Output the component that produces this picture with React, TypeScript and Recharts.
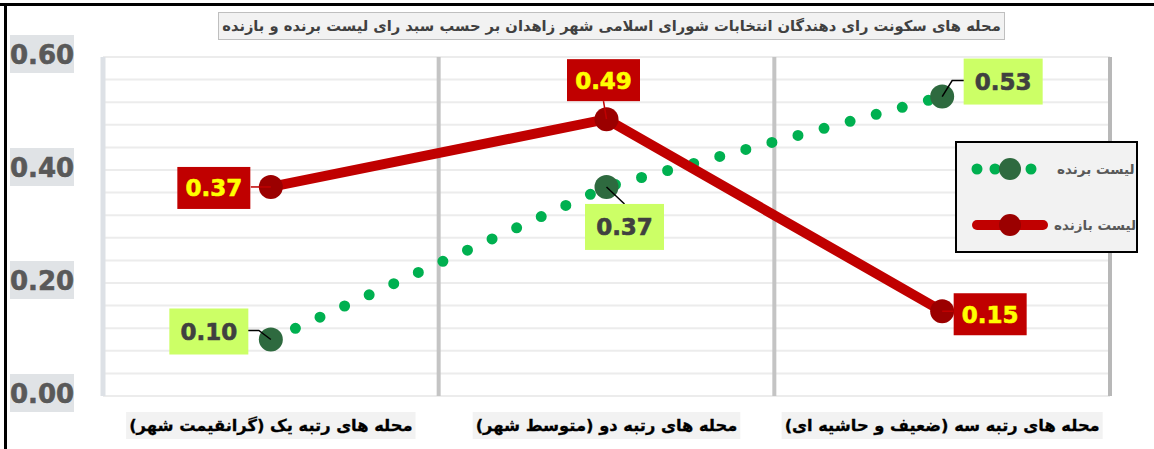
import React, { useLayoutEffect, useRef, useState } from 'react';
import { LineChart, Line, XAxis, YAxis, ReferenceLine, LabelList, Legend } from 'recharts';

const chartTitle = 'محله های سکونت رای دهندگان انتخابات شورای اسلامی شهر زاهدان  بر حسب سبد رای لیست برنده و بازنده';
const categories = [
  'محله های رتبه یک (گرانقیمت شهر)',
  'محله های رتبه دو (متوسط شهر)',
  'محله های رتبه سه (ضعیف و حاشیه ای)',
];
const seriesNames = ['لیست برنده', 'لیست بازنده'];
const winnerValues = [0.1, 0.37, 0.53];
const loserValues = [0.37, 0.49, 0.15];
const yTicks = [0, 0.2, 0.4, 0.6];

const data = categories.map((name, i) => ({
  pos: i + 0.5,
  name,
  winner: winnerValues[i],
  loser: loserValues[i],
}));

const gridValues = Array.from({ length: 16 }, (_, i) => Number((i * 0.04).toFixed(2)));

const FONT = '"DejaVu Sans", sans-serif';

const winnerPlacement = [
  { dx: -62, dy: -8, w: 79, h: 46, leader: [[0, 0], [-12, -9], [-23, -9]] },
  { dx: 18, dy: 40, w: 79, h: 46, leader: [[0, 0], [18, 17]] },
  { dx: 61, dy: -15, w: 79, h: 46, leader: [[0, 0], [10, -16], [22, -16]] },
];
const loserPlacement = [
  { dx: -57, dy: 1, w: 73, h: 42, leader: [[0, 0], [-20, 0]] },
  { dx: -3, dy: -39, w: 73, h: 42, leader: [[0, 0], [-3, -18]] },
  { dx: 48, dy: 3, w: 73, h: 42, leader: [[0, 0], [11, 0]] },
];

const makeLabel = (placement: any[], boxFill: string, textFill: string, leaderColor: string) => (props: any) => {
  const { x, y, value, index } = props;
  const p = placement[index];
  if (!p || x == null || y == null) return null;
  const cx = x + p.dx;
  const cy = y + p.dy;
  const pts = p.leader.map((q: number[]) => `${x + q[0]},${y + q[1]}`).join(' ');
  return (
    <g>
      <polyline points={pts} fill="none" stroke={leaderColor} strokeWidth={1.5} />
      <rect x={cx - p.w / 2} y={cy - p.h / 2} width={p.w} height={p.h} fill={boxFill} />
      <text
        x={cx}
        y={cy + 8.5}
        textAnchor="middle"
        fontFamily={FONT}
        fontWeight="bold"
        fontSize={23}
        fill={textFill}
        stroke={textFill}
        strokeWidth={0.6}
      >
        {Number(value).toFixed(2)}
      </text>
    </g>
  );
};

const XTick = (props: any) => {
  const { x, y, payload } = props;
  const ref = useRef<SVGTextElement>(null);
  const [w, setW] = useState(0);
  const label = categories[Math.round(payload.value - 0.5)] ?? '';
  useLayoutEffect(() => {
    if (ref.current) setW(ref.current.getBBox().width);
  }, [label]);
  return (
    <g>
      {w > 0 && <rect x={x - w / 2 - 3} y={y + 16} width={w + 6} height={27} fill="#f2f2f2" />}
      <text
        ref={ref}
        x={x}
        y={y + 35}
        textAnchor="middle"
        direction="rtl"
        style={{ direction: 'rtl', unicodeBidi: 'embed' } as any}
        fontFamily={FONT}
        fontWeight="bold"
        fontSize={16.3}
        fill="#000"
        stroke="#000"
        strokeWidth={0.3}
      >
        {label}
      </text>
    </g>
  );
};

const YTick = (props: any) => {
  const { x, y, payload } = props;
  return (
    <g>
      <rect x={x - 93} y={y - 22} width={64} height={38} fill="#e0e3e6" />
      <text
        x={x - 61}
        y={y + 6.5}
        textAnchor="middle"
        fontFamily={FONT}
        fontWeight="bold"
        fontSize={26}
        fill="#595959"
        stroke="#595959"
        strokeWidth={0.6}
      >
        {Number(payload.value).toFixed(2)}
      </text>
    </g>
  );
};

const renderLegend = () => (
  <div
    style={{
      width: 183,
      height: 112,
      boxSizing: 'border-box',
      border: '2px solid #000',
      background: '#f2f2f2',
    }}
  >
    <svg width={179} height={108} style={{ display: 'block', overflow: 'visible' }}>
      <line x1={20} y1={26} x2={76} y2={26} stroke="#00b050" strokeWidth={11} strokeLinecap="round" strokeDasharray="0 18" />
      <circle cx={53} cy={26} r={11} fill="#2e6a3f" />
      <text x={100} y={31} fontFamily={FONT} fontWeight="bold" fontSize={13.5} fill="#595959">
        {seriesNames[0]}
      </text>
      <line x1={20} y1={82} x2={86} y2={82} stroke="#c00000" strokeWidth={10} strokeLinecap="round" />
      <circle cx={53} cy={82} r={11} fill="#9b0000" />
      <text x={97} y={87} fontFamily={FONT} fontWeight="bold" fontSize={13.5} fill="#595959">
        {seriesNames[1]}
      </text>
    </svg>
  </div>
);

export default function App() {
  return (
    <div style={{ position: 'absolute', left: 0, top: 0, width: 1154, height: 449, background: '#fff', overflow: 'hidden' }}>
      <div style={{ position: 'absolute', left: 0, top: 3, width: 1154, height: 3, background: '#000' }} />
      <div style={{ position: 'absolute', left: 4, top: 3, width: 3, height: 446, background: '#000' }} />
      <LineChart
        width={1154}
        height={449}
        data={data}
        margin={{ top: 57, right: 44, bottom: 0, left: 0 }}
      >
        {gridValues.map((v) => (
          <ReferenceLine key={'g' + v} y={v} stroke="#ececec" strokeWidth={2} ifOverflow="extendDomain" />
        ))}
        <ReferenceLine x={0} stroke="#dde1e6" strokeWidth={5} />
        <ReferenceLine x={1} stroke="#c4c4c4" strokeWidth={4} />
        <ReferenceLine x={2} stroke="#c4c4c4" strokeWidth={4} />
        <ReferenceLine x={3} stroke="#b8b8b8" strokeWidth={4} />
        <XAxis
          dataKey="pos"
          type="number"
          domain={[0, 3]}
          ticks={[0.5, 1.5, 2.5]}
          axisLine={false}
          tickLine={false}
          tickSize={0}
          tickMargin={0}
          height={53}
          tick={<XTick />}
          interval={0}
        />
        <YAxis
          type="number"
          domain={[0, 0.6]}
          ticks={yTicks}
          axisLine={false}
          tickLine={false}
          tickSize={0}
          tickMargin={0}
          width={103}
          tick={<YTick />}
          interval={0}
        />
        <Legend
          verticalAlign="middle"
          align="center"
          layout="vertical"
          wrapperStyle={{ position: 'absolute', left: 955, top: 141, width: 183, height: 112 }}
          content={renderLegend}
        />
        <Line
          type="linear"
          dataKey="winner"
          name={seriesNames[0]}
          stroke="#00b050"
          strokeWidth={11}
          strokeLinecap="round"
          strokeDasharray="0 27"
          dot={{ r: 12, fill: '#2e6a3f', stroke: 'none', strokeDasharray: '' }}
          activeDot={false}
          isAnimationActive={false}
        >
          <LabelList dataKey="winner" content={makeLabel(winnerPlacement, '#ccff66', '#404040', '#000')} />
        </Line>
        <Line
          type="linear"
          dataKey="loser"
          name={seriesNames[1]}
          stroke="#c00000"
          strokeWidth={10}
          dot={{ r: 12, fill: '#9b0000', stroke: 'none' }}
          activeDot={false}
          isAnimationActive={false}
        >
          <LabelList dataKey="loser" content={makeLabel(loserPlacement, '#c00000', '#ffff00', '#c00000')} />
        </Line>
      </LineChart>
      <div
        style={{
          position: 'absolute',
          left: 218,
          top: 12,
          width: 787,
          height: 28,
          boxSizing: 'border-box',
          background: '#f2f2f2',
          border: '1px solid #bfbfbf',
          fontFamily: FONT,
          fontWeight: 'bold',
          fontSize: 14.7,
          color: '#404040',
          direction: 'rtl',
          textAlign: 'center',
          lineHeight: '26px',
          whiteSpace: 'nowrap',
        }}
      >
        {chartTitle}
      </div>
    </div>
  );
}
